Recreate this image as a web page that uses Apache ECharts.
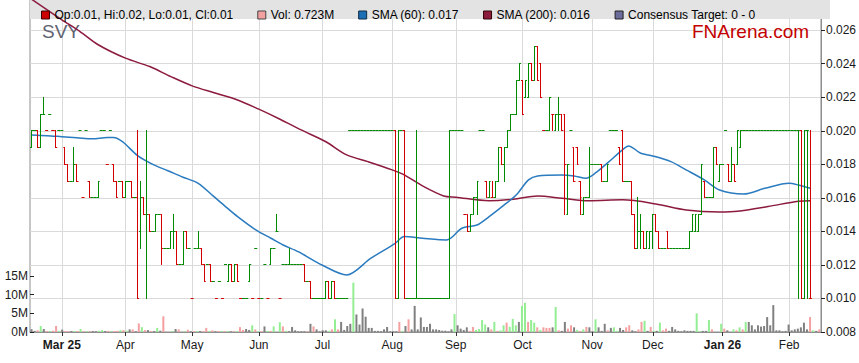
<!DOCTYPE html>
<html><head><meta charset="utf-8">
<script src="https://cdn.jsdelivr.net/npm/echarts@6/dist/echarts.min.js"></script>
<style>html,body{margin:0;padding:0;background:#fff}#c{width:859px;height:363px}</style>
</head><body><div id="c"></div>
<script>
// ---------- data ----------
const startDate = '2025-02-17';          // first weekday slot on the axis
const slotCount = 261;                    // weekday slots on the axis
const tickLabels = ['Mar 25','Apr','May','Jun','Jul','Aug','Sep','Oct','Nov','Dec','Jan 26','Feb'];
const boldLabels = ['Mar 25','Jan 26'];
const priceTicksMin = 0.008, priceTicksStep = 0.002;
const volumeTicks = ['0M','5M','10M','15M'];

// daily [open, high, low, close] in thousandths of a dollar
const ohlcMils = [
[19,20,19,20],[20,20,20,20],[20,20,19,19],[19,21,19,21],[21,22,21,21],[20,20,20,20],[21,21,21,21],[20,20,20,20],[20,20,19,19],[20,20,20,20],
[20,20,20,20],[19,19,18,18],[18,18,17,17],[17,17,17,17],[17,19,17,18],[18,18,17,17],[20,20,20,20],[16,16,16,16],[20,20,20,20],[17,17,16,16],
[16,16,16,16],[16,16,16,16],[16,17,16,17],[20,20,20,20],[20,20,20,20],[18,18,18,18],[20,20,20,20],[18,18,17,17],[17,17,16,16],[17,17,17,17],
[17,17,16,16],[16,17,16,17],[17,17,17,17],[17,17,16,16],[16,16,16,16],[16,20,10,10],[14,17,13,16],[16,16,15,15],[15,20,10,15],[15,15,14,14],
[14,14,14,14],[14,15,14,15],[15,15,15,15],[15,15,12,13],[13,13,13,13],[13,13,13,13],[13,14,13,14],[14,15,13,14],[14,14,12,12],[12,12,12,12],
[12,14,12,14],[14,14,13,13],[13,13,13,13],[10,10,10,10],[13,13,13,13],[13,14,13,13],[13,13,12,12],[12,12,11,11],[12,12,12,12],[12,12,11,11],
[11,11,11,11],[10,10,10,10],[11,11,11,11],[10,10,10,10],[12,12,12,12],[11,12,11,12],[12,12,11,11],[11,12,11,12],[12,12,11,11],[10,10,10,10],
[10,10,10,10],[10,10,10,10],[11,12,11,12],[10,10,10,10],[13,13,13,13],[10,10,10,10],[10,10,10,10],[12,12,12,12],[10,10,10,10],[12,13,12,13],
[13,13,13,13],[14,15,14,14],[10,10,10,10],[12,12,12,12],[12,12,12,12],[12,13,12,12],[12,12,12,12],[12,12,12,12],[12,12,12,12],[12,12,12,12],
[12,12,11,11],[11,11,11,11],[11,11,10,10],[10,10,10,10],[10,10,10,10],[10,10,10,10],[10,10,10,10],[10,11,10,11],[11,11,10,10],[10,11,10,11],
[11,11,10,10],[10,10,10,10],[10,10,10,10],[10,10,10,10],[10,10,10,10],[20,20,20,20],[20,20,20,20],[20,20,20,20],[20,20,20,20],[20,20,20,20],
[20,20,20,20],[20,20,20,20],[20,20,20,20],[20,20,20,20],[20,20,20,20],[20,20,20,20],[20,20,20,20],[20,20,20,20],[20,20,20,20],[20,20,20,20],
[20,20,10,10],[10,20,10,20],[20,20,20,20],[20,20,10,10],[10,10,10,10],[10,10,10,10],[10,10,10,10],[10,20,10,10],[10,10,10,10],[10,10,10,10],
[10,10,10,10],[10,10,10,10],[10,10,10,10],[10,10,10,10],[10,10,10,10],[10,10,10,10],[10,10,10,10],[10,10,10,10],[10,20,10,20],[20,20,20,20],
[20,20,20,20],[20,20,20,20],[20,20,20,20],[15,15,15,15],[15,15,14,14],[14,15,14,15],[15,16,15,16],[16,17,15,17],[20,20,20,20],[20,20,20,20],
[17,17,16,16],[16,17,16,17],[16,17,16,16],[16,17,16,17],[17,19,17,19],[19,19,18,18],[18,19,17,19],[19,20,19,20],[20,21,20,21],[21,21,21,21],
[21,23,21,23],[23,24,23,24],[23,23,21,21],[22,23,22,23],[22,24,22,24],[24,24,23,23],[23,25,23,25],[25,25,23,23],[24,24,22,22],[20,20,20,20],
[20,20,20,20],[20,22,20,22],[21,21,20,21],[20,21,20,21],[21,22,20,21],[21,21,20,20],[21,21,15,18],[15,18,15,18],[20,20,20,20],[19,19,17,17],
[19,19,18,18],[17,17,15,16],[15,16,15,16],[16,16,16,16],[16,19,16,18],[18,18,18,18],[18,18,18,18],[18,18,18,18],[18,18,17,17],[17,17,17,17],
[17,18,17,18],[20,20,20,20],[20,20,20,20],[20,20,20,20],[19,19,18,18],[20,20,17,17],[17,17,17,17],[17,17,17,17],[17,17,15,15],[15,15,13,13],
[13,16,13,14],[14,15,13,14],[14,14,13,13],[13,14,13,14],[13,14,13,14],[14,15,13,15],[15,15,14,14],[14,14,13,13],[13,13,13,13],[13,13,13,13],
[14,14,13,13],[13,13,13,13],[13,13,13,13],[13,13,13,13],[13,13,13,13],[13,13,13,13],[13,13,13,13],[13,14,13,14],[14,15,14,15],[14,15,14,15],
[14,15,14,15],[15,18,15,18],[17,17,16,16],[16,16,16,16],[16,16,16,16],[16,19,16,19],[19,19,18,18],[17,18,17,18],[18,18,18,18],[20,20,20,20],
[18,18,17,17],[17,19,17,18],[18,18,17,17],[18,20,18,20],[19,20,19,20],[20,20,20,20],[20,20,20,20],[20,20,20,20],[20,20,20,20],[20,20,20,20],
[20,20,20,20],[20,20,20,20],[20,20,20,20],[20,20,20,20],[20,20,20,20],[20,20,20,20],[20,20,20,20],[20,20,20,20],[20,20,20,20],[20,20,20,20],
[20,20,20,20],[20,20,20,20],[20,20,20,20],[20,20,10,20],[20,20,10,10],[10,20,10,20],[20,20,10,20],[10,20,10,10]
];

// daily volume, millions of shares
const volumeM = [
0.75,0.3,0.45,1.6,0.8,0.25,0.25,0.35,1.6,0.3,
0.65,0.25,0.25,0.25,0.25,0.25,0.8,0.25,0.2,0.2,
0.25,0.2,0.3,0.5,0.25,0.3,0.2,0.25,0.3,0.5,
0.5,0.35,0.7,0.7,0.2,2.3,1.3,0.5,0.5,0.25,
0.25,1.1,0.35,4.2,null,null,0.25,0.8,0.7,null,
0.2,0.6,0.2,0.2,0.25,0.25,0.25,1.1,0.25,0.45,
0.2,0.25,0.25,0.25,0.25,0.2,0.2,0.2,1.3,0.55,
0.8,0.55,1.8,0.7,0.2,0.2,1.5,0.3,0.3,1.5,
null,2.6,1.5,0.3,0.2,1.35,0.45,0.2,0.2,0.2,
0.2,2.2,1.5,0.7,0.2,0.45,0.45,0.3,0.7,3.4,
0.7,2.7,0.55,1.6,2.2,13.2,4.7,2.0,6.3,4.1,
1.1,1.1,0.3,0.3,0.2,0.7,1.35,0.2,0.2,0.2,
2.7,0.3,1.6,3.4,0.7,7.0,0.7,3.9,1.35,1.35,
2.2,0.7,0.7,0.55,0.35,0.35,0.2,0.7,4.8,1.8,
0.9,0.55,1.25,0.3,1.35,0.55,0.8,3.2,2.0,1.25,
0.7,2.7,0.3,0.45,1.8,2.5,1.4,3.5,1.8,2.7,
7.0,7.8,2.7,3.2,2.5,1.25,0.55,1.25,1.1,1.1,
1.25,6.7,0.45,0.3,2.7,0.9,1.8,1.25,0.55,0.3,
0.7,1.35,1.25,0.2,3.4,1.25,0.3,2.2,0.45,1.1,
1.25,0.3,1.1,0.55,1.25,1.8,0.45,0.2,0.7,2.7,
3.0,0.3,1.35,0.3,0.3,2.5,0.45,0.9,0.3,1.35,
0.7,0.3,0.2,0.45,0.3,0.3,0.3,5.0,0.2,0.3,
0.3,3.2,0.7,null,null,2.2,0.9,0.45,null,0.7,
0.45,1.25,0.7,2.7,2.7,1.8,0.7,1.8,1.45,1.6,
4.0,1.8,7.2,0.45,0.45,0.2,0.3,2.0,0.45,0.7,
0.9,1.25,2.5,0.7,4.0,0.45,0.3,0.723
];

// moving averages read at sample days: [day slot, value]
const sma60 = [[0,0.01975],[5,0.01971],[10,0.01965],[15,0.01959],[20,0.01952],[25,0.0196],[27,0.0196],[30,0.01935],[35,0.01852],[40,0.018],[45,0.01762],[50,0.01723],[55,0.01687],[60,0.0161],[64,0.01548],[68,0.01488],[74,0.01409],[79,0.01359],[83,0.01319],[88,0.01279],[96,0.01198],[104,0.0114],[112,0.0124],[120,0.01329],[123,0.01369],[129,0.01359],[137,0.01349],[142,0.01419],[147,0.01438],[151,0.01488],[156,0.01558],[160,0.01618],[164,0.01707],[167,0.01731],[175,0.01737],[179,0.01731],[183,0.01717],[186,0.01747],[190,0.01807],[195,0.01886],[197,0.0191],[201,0.01866],[205,0.0185],[211,0.01816],[216,0.01767],[222,0.01707],[227,0.01647],[235,0.01623],[242,0.01657],[250,0.01687],[253,0.01677],[257,0.01657]];
const sma200 = [[0,0.02785],[10,0.02662],[16,0.02592],[22,0.02513],[31,0.02433],[39,0.02383],[46,0.02323],[53,0.02268],[60,0.02228],[68,0.02184],[75,0.02129],[82,0.02069],[89,0.02005],[97,0.01936],[104,0.01856],[111,0.01816],[119,0.01767],[123,0.01737],[129,0.01671],[136,0.01611],[140,0.01604],[151,0.01583],[159,0.01592],[167,0.01611],[175,0.01598],[184,0.01583],[195,0.01588],[206,0.01564],[216,0.01528],[227,0.01516],[233,0.0152],[243,0.01548],[253,0.0158],[257,0.01583]];

const nameOHLC = 'Op:0.01, Hi:0.02, Lo:0.01, Cl:0.01';
const nameVol = 'Vol: 0.723M';
const nameS60 = 'SMA (60): 0.017';
const nameS200 = 'SMA (200): 0.016';
const nameCons = 'Consensus Target: 0 - 0';

// ---------- build ----------
const FONT = "'Liberation Sans', Arial, sans-serif";
const UP = '#008a00', DOWN = '#d40000';
const dates = [];
(function(){ const d = new Date(startDate + 'T00:00:00Z');
  while (dates.length < slotCount) { const w = d.getUTCDay(); if (w > 0 && w < 6) dates.push(d.toISOString().slice(0,10)); d.setUTCDate(d.getUTCDate()+1); } })();
const monthStart = dates.map((s,i) => i > 0 && s.slice(0,7) !== dates[i-1].slice(0,7));
const labelAt = {}; { let k = 0; dates.forEach((s,i) => { if (monthStart[i]) labelAt[i] = tickLabels[k++]; }); }
const isMonth = (idx) => !!monthStart[idx];

const ohlcData = []; const volData = [];
{ let prevC = null;
  ohlcMils.forEach((r,i) => {
    const v = volumeM[i];
    if (!r) { volData.push('-'); return; }
    const [o,h,l,c] = r;
    let up; if (c > o) up = 1; else if (c < o) up = 0; else up = (prevC !== null && c < prevC) ? 0 : 1;
    ohlcData.push([i, o/1000, h/1000, l/1000, c/1000, up]);
    let vc = '#808080';
    if (prevC !== null) { if (c > prevC) vc = '#93ee93'; else if (c < prevC) vc = '#f5a0a0'; }
    volData.push(v == null ? '-' : { value: v*1e6, itemStyle: { color: vc } });
    prevC = c;
  });
}

function renderOHLC(params, api) {
  const i = api.value(0);
  const col = api.value(5) ? UP : DOWN;
  const pO = api.coord([i, api.value(1)]);
  const yH = api.coord([i, api.value(2)])[1];
  const yL = api.coord([i, api.value(3)])[1];
  const yC = api.coord([i, api.value(4)])[1];
  const bw = api.size([1, 0])[0];
  const xc = pO[0];
  const xv = Math.round(xc - 0.5) + 0.5;
  const sn = y => Math.round(y - 0.5) + 0.5;
  const st = { stroke: col, lineWidth: 1 };
  const kids = [
    { type: 'line', shape: { x1: xc - bw/2, y1: sn(pO[1]), x2: xv + 0.5, y2: sn(pO[1]) }, style: st },
    { type: 'line', shape: { x1: xv - 0.5, y1: sn(yC), x2: xc + bw/2, y2: sn(yC) }, style: st }
  ];
  if (Math.abs(yL - yH) > 0.5) kids.push({ type: 'line', shape: { x1: xv, y1: sn(yH) - 0.5, x2: xv, y2: sn(yL) + 0.5 }, style: st });
  return { type: 'group', children: kids };
}

const chart = echarts.init(document.getElementById('c'), null, { renderer: 'svg' });
chart.setOption({
  animation: false,
  backgroundColor: '#fff',
  textStyle: { fontFamily: FONT },
  grid: [
    { left: 30, top: 0, width: 800, height: 332, show: true, borderColor: '#8e8e8e', borderWidth: 1, backgroundColor: 'transparent' },
    { left: 30, top: 276, width: 800, height: 56 }
  ],
  xAxis: [
    { type: 'category', gridIndex: 0, data: dates, boundaryGap: true,
      axisLine: { show: true, lineStyle: { color: '#8e8e8e' } },
      axisTick: { show: true, alignWithLabel: true, interval: isMonth, length: 4, lineStyle: { color: '#333' } },
      axisLabel: { interval: isMonth, margin: 7, fontSize: 12, color: '#1a1a1a', fontFamily: FONT,
        formatter: (val, idx) => { const t = labelAt[idx] || ''; return boldLabels.includes(t) ? '{b|' + t + '}' : t; },
        rich: { b: { fontWeight: 'bold', fontSize: 12, color: '#1a1a1a', fontFamily: FONT } } },
      splitLine: { show: true, interval: isMonth, alignWithLabel: true, lineStyle: { color: '#dadada', width: 1 } } },
    { type: 'category', gridIndex: 1, data: dates, boundaryGap: true, show: false }
  ],
  yAxis: [
    { type: 'value', gridIndex: 0, position: 'right', min: priceTicksMin, max: 0.0278, interval: priceTicksStep,
      axisLine: { show: true, lineStyle: { color: '#8e8e8e' } },
      axisTick: { show: true, length: 4, lineStyle: { color: '#222' } },
      axisLabel: { showMaxLabel: false, margin: 5, fontSize: 12, color: '#1a1a1a', fontFamily: FONT,
        formatter: v => { const k = Math.round((v - priceTicksMin) / priceTicksStep); return Math.abs(v - (priceTicksMin + k*priceTicksStep)) < 1e-7 ? v.toFixed(3) : ''; } },
      splitLine: { show: true, lineStyle: { color: '#dadada', width: 1 } } },
    { type: 'value', gridIndex: 1, position: 'left', min: 0, max: 15e6, interval: 5e6,
      axisLine: { show: false },
      axisTick: { show: true, inside: true, length: 4, lineStyle: { color: '#222' } },
      axisLabel: { margin: 2, fontSize: 12, color: '#1a1a1a', fontFamily: FONT,
        formatter: v => volumeTicks[Math.round(v / 5e6)] || '' },
      splitLine: { show: false } }
  ],
  legend: {
    left: 36, top: 4, itemWidth: 8, itemHeight: 8, itemGap: 24, selectedMode: false,
    textStyle: { fontSize: 12, color: '#000', fontFamily: FONT },
    data: [
      { name: nameOHLC, icon: 'rect', itemStyle: { color: '#cc0000', borderColor: '#3a0000', borderWidth: 1 } },
      { name: nameVol, icon: 'rect', itemStyle: { color: '#f5a0a0', borderColor: '#444', borderWidth: 1 } },
      { name: nameS60, icon: 'rect', itemStyle: { color: '#1d6fb5', borderColor: '#102a44', borderWidth: 1 } },
      { name: nameS200, icon: 'rect', itemStyle: { color: '#8c1b3e', borderColor: '#300', borderWidth: 1 } },
      { name: nameCons, icon: 'rect', itemStyle: { color: '#6b6b9c', borderColor: '#222', borderWidth: 1 } }
    ]
  },
  graphic: [
    { type: 'rect', left: 30, top: 0, z: 1, shape: { width: 800, height: 19 }, style: { fill: '#e3e3e3' } },
    { type: 'text', left: 42, top: 22, z: 1, style: { text: 'SVY', fontSize: 19, fill: '#5f6472', fontFamily: FONT } },
    { type: 'text', left: 692, top: 22, z: 1, style: { text: 'FNArena.com', fontSize: 19, fill: '#c40000', fontFamily: FONT } }
  ],
  series: [
    { name: nameVol, type: 'bar', xAxisIndex: 1, yAxisIndex: 1, barWidth: 2, data: volData, itemStyle: { color: '#f5a0a0' }, z: 2 },
    { name: nameS200, type: 'line', xAxisIndex: 0, yAxisIndex: 0, data: sma200, showSymbol: false, symbol: 'none', smooth: 0.3,
      lineStyle: { color: '#8c1b3e', width: 1.5 }, itemStyle: { color: '#8c1b3e' }, z: 3 },
    { name: nameS60, type: 'line', xAxisIndex: 0, yAxisIndex: 0, data: sma60, showSymbol: false, symbol: 'none', smooth: 0.3,
      lineStyle: { color: '#2a7bbf', width: 1.5 }, itemStyle: { color: '#1d6fb5' }, z: 3 },
    { name: nameOHLC, type: 'custom', xAxisIndex: 0, yAxisIndex: 0, data: ohlcData, renderItem: renderOHLC,
      dimensions: ['i','open','high','low','close','up'], encode: { x: 0, y: [1,2,3,4] }, itemStyle: { color: '#cc0000' }, z: 4 },
    { name: nameCons, type: 'line', xAxisIndex: 0, yAxisIndex: 0, data: [], itemStyle: { color: '#6b6b9c' } }
  ]
});
</script>
</body></html>
